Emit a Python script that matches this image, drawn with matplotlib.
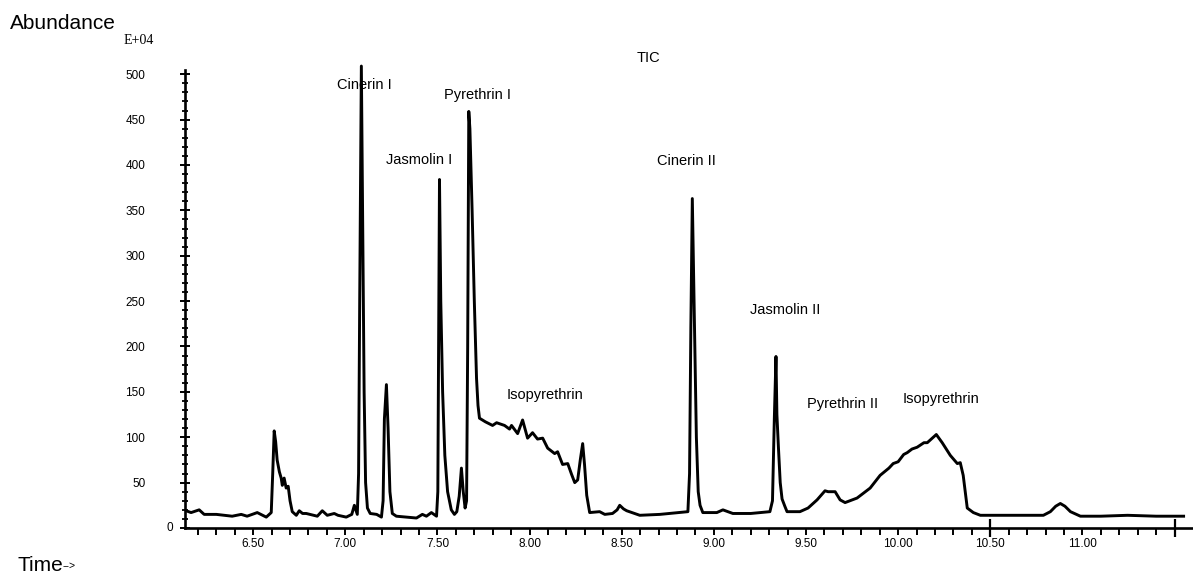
import matplotlib
matplotlib.use("Agg")
import matplotlib.pyplot as plt
import numpy as np

plt.rcParams['font.family'] = ['Liberation Sans', 'DejaVu Sans']

# TIC trace (time in min, abundance in E+04)
time = [6.136, 6.163, 6.207, 6.234, 6.300, 6.386, 6.435, 6.467, 6.522, 6.571,
        6.598, 6.606, 6.614, 6.622, 6.630, 6.642, 6.652, 6.658, 6.668, 6.679,
        6.690, 6.700, 6.712, 6.734, 6.750, 6.768, 6.788, 6.848, 6.875, 6.902,
        6.920, 6.940, 6.960, 7.005, 7.035, 7.049, 7.065, 7.072, 7.078, 7.087,
        7.095, 7.102, 7.110, 7.120, 7.135, 7.170, 7.196, 7.205, 7.212, 7.223,
        7.232, 7.242, 7.255, 7.277, 7.330, 7.386, 7.418, 7.440, 7.467, 7.495,
        7.502, 7.506, 7.511, 7.518, 7.528, 7.540, 7.555, 7.575, 7.592, 7.605,
        7.618, 7.630, 7.640, 7.650, 7.658, 7.664, 7.670, 7.676, 7.688, 7.700,
        7.712, 7.720, 7.728, 7.760, 7.799, 7.821, 7.864, 7.891, 7.902, 7.935,
        7.962, 7.989, 8.016, 8.043, 8.071, 8.098, 8.136, 8.152, 8.179, 8.207,
        8.228, 8.245, 8.261, 8.275, 8.288, 8.298, 8.310, 8.326, 8.380, 8.408,
        8.450, 8.475, 8.489, 8.510, 8.527, 8.598, 8.707, 8.859, 8.868, 8.875,
        8.883, 8.890, 8.897, 8.905, 8.915, 8.925, 8.940, 9.016, 9.049, 9.103,
        9.200, 9.304, 9.318, 9.328, 9.337, 9.342, 9.350, 9.360, 9.370, 9.385,
        9.397, 9.467, 9.511, 9.560, 9.603, 9.620, 9.658, 9.685, 9.712, 9.777,
        9.848, 9.902, 9.950, 9.973, 10.000, 10.030, 10.049, 10.075, 10.103, 10.140,
        10.158, 10.185, 10.207, 10.239, 10.283, 10.321, 10.337, 10.353, 10.375, 10.408,
        10.446, 10.625, 10.788, 10.826, 10.855, 10.880, 10.905, 10.935, 10.989, 11.100,
        11.245, 11.400, 11.549]
abund = [19, 17, 20, 15, 15, 13, 15, 13, 17, 12,
         17, 60, 107, 95, 75, 62, 55, 47, 55, 44,
         46, 30, 18, 14, 19, 16, 16, 13, 19, 14,
         15, 16, 14, 12, 15, 25, 15, 60, 250, 509,
         320, 150, 50, 22, 16, 15, 12, 30, 120, 158,
         110, 40, 16, 13, 12, 11, 15, 13, 17, 13,
         40, 200, 384, 250, 150, 80, 40, 20, 15, 18,
         35, 66, 40, 22, 30, 200, 459, 440, 350, 250,
         165, 135, 121, 117, 113, 116, 113, 109, 113, 104,
         119, 99, 105, 98, 99, 88, 82, 84, 70, 71,
         59, 50, 53, 75, 93, 70, 36, 17, 18, 15,
         16, 20, 25, 21, 19, 14, 15, 18, 60, 220,
         363, 280, 200, 100, 40, 25, 17, 17, 20, 16,
         16, 18, 30, 120, 189, 125, 90, 50, 32, 24,
         18, 18, 22, 31, 41, 40, 40, 31, 28, 33,
         44, 58, 66, 71, 73, 81, 83, 87, 89, 94,
         94, 99, 103, 94, 80, 71, 72, 58, 22, 17,
         14, 14, 14, 18, 24, 27, 24, 18, 13, 13,
         14, 13, 13]

peak_names = ["Cinerin I", "Pyrethrin I", "Jasmolin I", "Cinerin II",
              "Jasmolin II", "Isopyrethrin", "Pyrethrin II", "Isopyrethrin"]
label_pos = [(6.957, 488), (7.538, 477), (7.223, 405), (8.690, 404),
             (9.196, 240), (7.875, 146), (9.505, 137), (10.022, 142)]

fig = plt.figure(figsize=(11.93, 5.74), dpi=100)
ax = fig.add_axes([185 / 1193, 46 / 574, 1008 / 1193, 481 / 574])

ax.plot(time, abund, color="black", lw=2.1, zorder=3)

ax.set_xlim(6.13, 11.60)
ax.set_ylim(0, 530)

for s in ["top", "right"]:
    ax.spines[s].set_visible(False)
ax.spines["left"].set_bounds(0, 505)
ax.spines["left"].set_linewidth(1.9)
ax.spines["bottom"].set_linewidth(1.9)

# y axis: majors every 50, minors every 10
yt = list(range(0, 501, 50))
ax.set_yticks(yt)
ax.set_yticklabels([""] + [str(v) for v in yt[1:]])
ax.set_yticks(np.arange(0, 501, 10), minor=True)
ax.tick_params(axis="y", which="major", direction="inout", length=7, width=1.4,
               pad=25, labelsize=8.5)
ax.tick_params(axis="y", which="minor", direction="inout", length=4.5, width=1.3)
ax.annotate("0", xy=(0, 0), xycoords=("axes fraction", "data"),
            xytext=(-11, 0), textcoords="offset points",
            ha="center", va="center", fontsize=8.5)

# x axis: ticks every 0.1 min, labels every 0.5 min, a few long ticks
xt = np.round(np.arange(6.2, 11.55, 0.1), 2)
ax.set_xticks(xt)
xl = []
for v in xt:
    if abs(v * 2 - round(v * 2)) < 1e-6 and v <= 11.0:
        xl.append("%.2f" % v)
    else:
        xl.append("")
ax.set_xticklabels(xl)
ax.tick_params(axis="x", which="major", direction="out", length=5, width=1.4,
               pad=2, labelsize=8.5)
ax.xaxis.remove_overlapping_locs = False
ax.set_xticks([10.5, 11.5], minor=True)
ax.tick_params(axis="x", which="minor", direction="inout", length=13, width=1.6)

for name, (x, y) in zip(peak_names, label_pos):
    ax.text(x, y, name, fontsize=10.5, ha="left", va="center", zorder=2)

ax.text(8.647, 518, "TIC", fontsize=10.5, ha="center", va="center")

fig.text(10 / 1193, 1 - 29 / 574, "Abundance", fontsize=15, va="baseline")
fig.text(124 / 1193, 1 - 44 / 574, "E+04", family="Liberation Serif",
         fontsize=10, va="baseline")
fig.text(18 / 1193, 1 - 571 / 574, "Time", fontsize=15, va="baseline")
fig.text(63 / 1193, 1 - 569 / 574, "-->", fontsize=7.5, va="baseline")

fig.savefig("out.png", dpi=100)
